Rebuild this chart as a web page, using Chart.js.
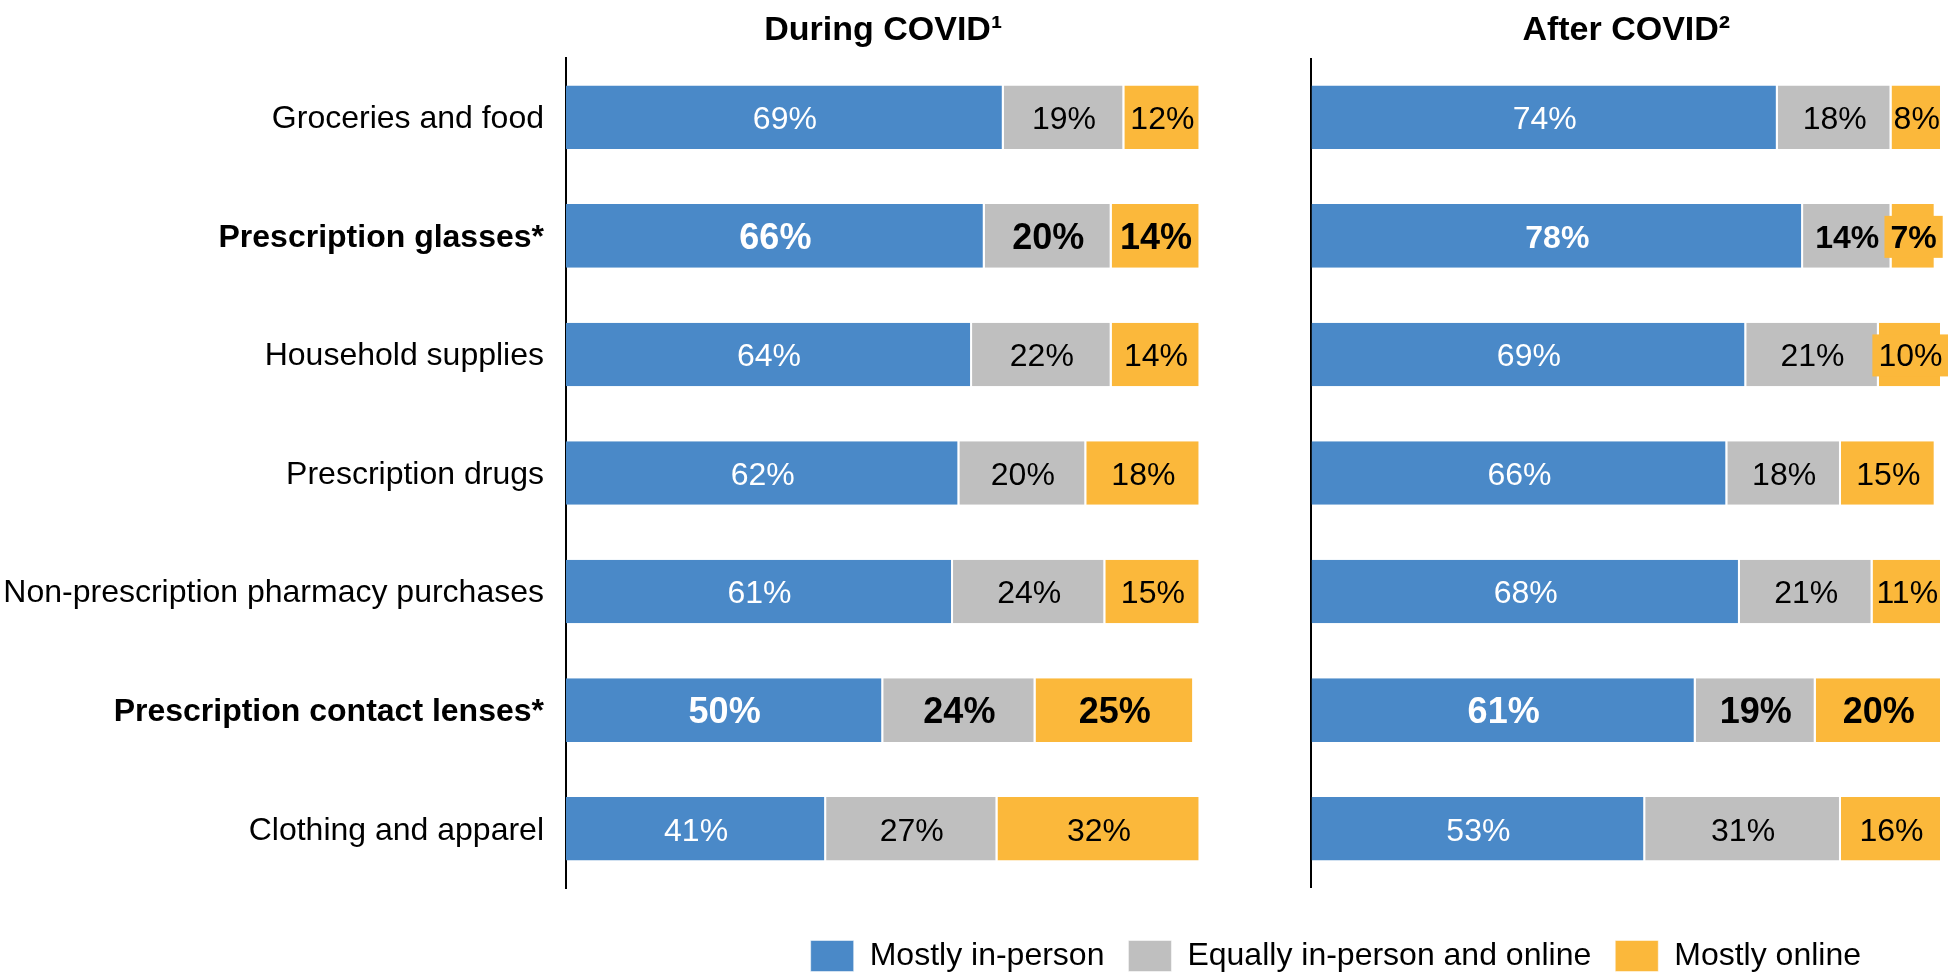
<!DOCTYPE html>
<html>
<head>
<meta charset="utf-8">
<title>Shopping channel before and after COVID</title>
<script src="https://cdn.jsdelivr.net/npm/chart.js@4.4.1/dist/chart.umd.min.js"></script>
<style>
  body { margin: 0; background: #fff; }
  canvas { display: block; }
</style>
</head>
<body>
<canvas id="canales" width="1948" height="975"></canvas>
<script>
var categorias = [
  "Groceries and food",
  "Prescription glasses*",
  "Household supplies",
  "Prescription drugs",
  "Non-prescription pharmacy purchases",
  "Prescription contact lenses*",
  "Clothing and apparel"
];
var filasNegrita = [1, 5]; // the starred rows are set in bold

var series = ["Mostly in-person", "Equally in-person and online", "Mostly online"];
var titulos = ["During COVID\u00B9", "After COVID\u00B2"];

var duranteEnPersona = [69, 66, 64, 62, 61, 50, 41];
var duranteIgual     = [19, 20, 22, 20, 24, 24, 27];
var duranteOnline    = [12, 14, 14, 18, 15, 25, 32];

var despuesEnPersona = [74, 78, 69, 66, 68, 61, 53];
var despuesIgual     = [18, 14, 21, 18, 21, 19, 31];
var despuesOnline    = [8, 7, 10, 15, 11, 20, 16];

var colores = ["#4A89C8", "#BFBFBF", "#FBB83B"];
var coloresTexto = ["#FFFFFF", "#000000", "#000000"];
var fuente = "'Liberation Sans', Arial, sans-serif";

Chart.defaults.font.family = fuente;
Chart.defaults.color = "#000";

function serie(i, datos, eje) {
  return {
    label: series[i],
    data: datos,
    xAxisID: eje,
    backgroundColor: colores[i],
    borderColor: "#FFFFFF",
    borderWidth: { top: 0, right: 2, bottom: 0, left: 0 },
    borderSkipped: false,
    labelColor: coloresTexto[i],
    barPercentage: 1,
    categoryPercentage: 0.536
  };
}

// percentage written in the middle of every segment
var etiquetas = {
  id: "etiquetas",
  afterDatasetsDraw: function(chart) {
    var ctx = chart.ctx;
    var sets = chart.data.datasets;
    sets.forEach(function(ds, di) {
      var meta = chart.getDatasetMeta(di);
      meta.data.forEach(function(barra, i) {
        var p = barra.getProps(["x", "y", "base"], true);
        var cx = (p.x + p.base) / 2;
        var negrita = filasNegrita.indexOf(i) !== -1;
        var size = 32;
        if (negrita) {
          // bold rows get a bigger label unless some segment in the row is tiny
          var minimo = Math.min.apply(null, sets.filter(function(s) {
            return s.xAxisID === ds.xAxisID;
          }).map(function(s) { return s.data[i]; }));
          size = minimo < 10 ? 32 : 36;
        }
        var texto = ds.data[i] + "%";
        ctx.save();
        ctx.font = (negrita ? "bold " : "") + size + "px " + fuente;
        ctx.textAlign = "center";
        ctx.textBaseline = "middle";
        var w = ctx.measureText(texto).width;
        if (w + 4 > Math.abs(p.x - p.base)) {
          ctx.fillStyle = ds.backgroundColor;
          ctx.fillRect(cx - w / 2 - 6, p.y - 20, w + 12, 42);
        }
        ctx.fillStyle = ds.labelColor;
        ctx.fillText(texto, cx, p.y + 3);
        ctx.restore();
      });
    });
  }
};

// park the legend under the right-hand panel
var moverLeyenda = {
  id: "moverLeyenda",
  afterLayout: function(chart) {
    var lg = chart.legend;
    lg.right -= 57;
    lg.top += 7;
    lg.bottom += 7;
  }
};

var ejeTitulo = function(texto, peso, ancho) {
  return {
    type: "linear",
    position: "top",
    min: 0,
    max: 100,
    stacked: true,
    stack: "paneles",
    stackWeight: ancho,
    weight: peso,
    ticks: { display: false, stepSize: 100 },
    border: { display: false },
    grid: { display: false, drawTicks: false },
    title: {
      display: true,
      text: texto,
      font: { size: 34, weight: "bold" },
      color: "#000",
      padding: { top: 10, bottom: 0 }
    },
    afterFit: function(s) { s.height = 58; }
  };
};

var ejeIzq = ejeTitulo(titulos[0], 3, 634);
var ejeDer = ejeTitulo(titulos[1], 1, 631);
// second panel needs its own vertical axis line at 0
ejeDer.grid = {
  display: true,
  drawTicks: false,
  lineWidth: 2,
  color: function(c) { return c.tick && c.tick.value === 0 ? "#000" : "rgba(0,0,0,0)"; }
};

var canales = new Chart(document.getElementById("canales").getContext("2d"), {
  type: "bar",
  data: {
    labels: categorias,
    datasets: [
      serie(0, duranteEnPersona, "x1"),
      serie(1, duranteIgual, "x1"),
      serie(2, duranteOnline, "x1"),
      serie(0, despuesEnPersona, "x2"),
      serie(1, despuesIgual, "x2"),
      serie(2, despuesOnline, "x2")
    ]
  },
  options: {
    indexAxis: "y",
    responsive: false,
    animation: false,
    layout: { padding: { left: 4, right: 6, top: 0, bottom: 0 } },
    scales: {
      x1: ejeIzq,
      hueco: {
        type: "linear",
        position: "top",
        display: false,
        min: 0,
        max: 1,
        stack: "paneles",
        stackWeight: 110,
        weight: 2
      },
      x2: ejeDer,
      y: {
        type: "category",
        stacked: true,
        grid: { display: false, drawTicks: false },
        border: { display: true, color: "#000", width: 2 },
        ticks: {
          padding: 22,
          labelOffset: 2,
          color: "#000",
          font: function(c) {
            return { size: 32, weight: filasNegrita.indexOf(c.index) !== -1 ? "bold" : "normal" };
          }
        },
        afterFit: function(s) { s.width = 562; }
      }
    },
    plugins: {
      tooltip: { enabled: false },
      legend: {
        position: "bottom",
        align: "end",
        title: { display: true, text: "", font: { size: 10 }, padding: { top: 9, bottom: 0 } },
        labels: {
          boxWidth: 43,
          boxHeight: 31,
          padding: 24,
          color: "#000",
          font: { size: 32 },
          filter: function(item) { return item.datasetIndex < 3; }
        }
      }
    }
  },
  plugins: [etiquetas, moverLeyenda]
});
</script>
</body>
</html>
